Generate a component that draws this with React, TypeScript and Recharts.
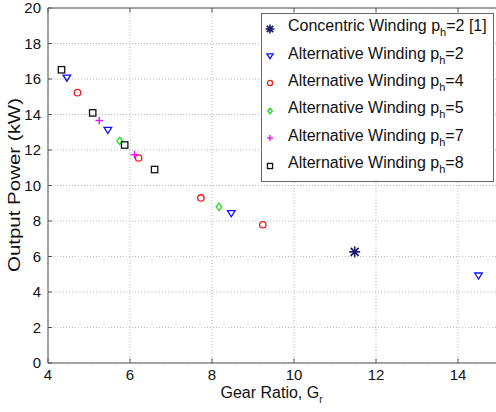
import React from "react";
import {
  ScatterChart,
  Scatter,
  XAxis,
  YAxis,
  CartesianGrid,
  ReferenceLine,
} from "recharts";

const concentricX = [11.48];
const concentricY = [6.26];
const alt2X = [4.46, 5.46, 8.47, 14.5];
const alt2Y = [16.07, 13.12, 8.43, 4.92];
const alt4X = [4.72, 6.21, 7.73, 9.24];
const alt4Y = [15.23, 11.55, 9.3, 7.79];
const alt5X = [5.75, 8.17];
const alt5Y = [12.52, 8.8];
const alt7X = [5.25, 6.11];
const alt7Y = [13.66, 11.74];
const alt8X = [4.33, 5.09, 5.87, 6.6];
const alt8Y = [16.52, 14.09, 12.28, 10.9];

const xTicks = [4, 6, 8, 10, 12, 14];
const yTicks = [0, 2, 4, 6, 8, 10, 12, 14, 16, 18, 20];

const FONT = "'Liberation Sans', Arial, sans-serif";

type MarkerType = "star" | "tri" | "circle" | "diamond" | "plus" | "square";

const toPoints = (xs: number[], ys: number[]) => xs.map((x, i) => ({ x, y: ys[i] }));

const series: { name: string; sub: string; rest: string; kind: MarkerType; color: string; data: { x: number; y: number }[] }[] = [
  { name: "Concentric Winding p", sub: "h", rest: "=2 [1]", kind: "star", color: "#14146a", data: toPoints(concentricX, concentricY) },
  { name: "Alternative Winding p", sub: "h", rest: "=2", kind: "tri", color: "#1010ee", data: toPoints(alt2X, alt2Y) },
  { name: "Alternative Winding p", sub: "h", rest: "=4", kind: "circle", color: "#ee1c1c", data: toPoints(alt4X, alt4Y) },
  { name: "Alternative Winding p", sub: "h", rest: "=5", kind: "diamond", color: "#22dd22", data: toPoints(alt5X, alt5Y) },
  { name: "Alternative Winding p", sub: "h", rest: "=7", kind: "plus", color: "#ee11ee", data: toPoints(alt7X, alt7Y) },
  { name: "Alternative Winding p", sub: "h", rest: "=8", kind: "square", color: "#111111", data: toPoints(alt8X, alt8Y) },
];

function Marker({ kind, cx, cy, color, s = 1 }: { kind: MarkerType; cx: number; cy: number; color: string; s?: number }) {
  const sw = 1.3;
  if (kind === "star") {
    const r = 5.5 * s;
    const d = r * 0.72;
    return (
      <g stroke={color} strokeWidth={1.6}>
        <line x1={cx - r} y1={cy} x2={cx + r} y2={cy} />
        <line x1={cx} y1={cy - r} x2={cx} y2={cy + r} />
        <line x1={cx - d} y1={cy - d} x2={cx + d} y2={cy + d} />
        <line x1={cx - d} y1={cy + d} x2={cx + d} y2={cy - d} />
      </g>
    );
  }
  if (kind === "tri") {
    const r = 3.8 * s;
    return (
      <polygon
        points={`${cx - r},${cy - r * 0.7} ${cx + r},${cy - r * 0.7} ${cx},${cy + r * 0.9}`}
        fill="none"
        stroke={color}
        strokeWidth={sw}
      />
    );
  }
  if (kind === "circle") {
    return <circle cx={cx} cy={cy} r={3.2 * s} fill="none" stroke={color} strokeWidth={sw} />;
  }
  if (kind === "diamond") {
    const r = 3.6 * s;
    return (
      <polygon
        points={`${cx},${cy - r} ${cx + r * 0.8},${cy} ${cx},${cy + r} ${cx - r * 0.8},${cy}`}
        fill="none"
        stroke={color}
        strokeWidth={sw}
      />
    );
  }
  if (kind === "plus") {
    const r = 3.8 * s;
    return (
      <g stroke={color} strokeWidth={1.4}>
        <line x1={cx - r} y1={cy} x2={cx + r} y2={cy} />
        <line x1={cx} y1={cy - r} x2={cx} y2={cy + r} />
      </g>
    );
  }
  const r = 3.2 * s;
  return <rect x={cx - r} y={cy - r} width={2 * r} height={2 * r} fill="none" stroke={color} strokeWidth={sw} />;
}

function LegendBox() {
  return (
    <div
      style={{
        position: "absolute",
        left: 261,
        top: 13,
        width: 233,
        height: 169,
        border: "1px solid #666",
        background: "#fff",
        boxSizing: "border-box",
        fontFamily: FONT,
        fontSize: 16,
        color: "#111",
      }}
    >
      {series.map((s, i) => (
        <div key={i} style={{ height: 27.4, display: "flex", alignItems: "center" }}>
          <svg width={26} height={20} style={{ flex: "none" }}>
            <Marker kind={s.kind} cx={8} cy={11} color={s.color} s={0.8} />
          </svg>
          <span style={{ whiteSpace: "nowrap" }}>
            {s.name}
            <sub style={{ fontSize: 11, verticalAlign: -5 }}>{s.sub}</sub>
            {s.rest}
          </span>
        </div>
      ))}
    </div>
  );
}

export default function App() {
  return (
    <div style={{ position: "absolute", left: 0, top: 0, width: 496, height: 412, overflow: "hidden", background: "#fff" }}>
      <ScatterChart width={520} height={412} margin={{ top: 8, right: 21, left: 0, bottom: 0 }}>
        <CartesianGrid stroke="#b8b8b8" strokeDasharray="1 2" />
        <XAxis
          type="number"
          dataKey="x"
          domain={[4, 15]}
          ticks={xTicks}
          interval={0}
          allowDataOverflow
          height={49}
          stroke="#555"
          tickLine={false}
          tick={{ fill: "#111", fontSize: 15, fontFamily: FONT }}
          tickMargin={0}
          label={(props: any) => {
            const vb = props.viewBox;
            const cx = vb.x + vb.width / 2 - 2;
            return (
              <text x={cx} y={vb.y + 35} textAnchor="middle" fontFamily={FONT} fontSize={16} fill="#111">
                Gear Ratio, G
                <tspan fontSize={10} dy={5}>r</tspan>
              </text>
            );
          }}
        />
        <YAxis
          type="number"
          dataKey="y"
          domain={[0, 20]}
          ticks={yTicks}
          interval={0}
          width={48}
          stroke="#555"
          tickLine={false}
          tick={{ fill: "#111", fontSize: 15, fontFamily: FONT }}
          tickMargin={1}
          label={() => (
            <text
              x={0}
              y={0}
              transform="translate(20 185) rotate(-90)"
              textAnchor="middle"
              fontFamily={FONT}
              fontSize={16}
              fill="#111"
              textLength={174}
              lengthAdjust="spacingAndGlyphs"
            >
              Output Power (kW)
            </text>
          )}
        />
        <ReferenceLine y={20} stroke="#555" />
        {xTicks.map((t) => (
          <ReferenceLine key={"xb" + t} segment={[{ x: t, y: 0 }, { x: t, y: 0.25 }]} stroke="#555" />
        ))}
        {xTicks.map((t) => (
          <ReferenceLine key={"xt" + t} segment={[{ x: t, y: 20 }, { x: t, y: 19.75 }]} stroke="#555" />
        ))}
        {yTicks.map((t) => (
          <ReferenceLine key={"yl" + t} segment={[{ x: 4, y: t }, { x: 4.1, y: t }]} stroke="#555" />
        ))}
        {series.map((s, i) => (
          <Scatter
            key={i}
            name={s.name + s.sub + s.rest}
            data={s.data}
            isAnimationActive={false}
            shape={(p: any) => <Marker kind={s.kind} cx={p.cx} cy={p.cy} color={s.color} />}
          />
        ))}
      </ScatterChart>
      <LegendBox />
    </div>
  );
}
